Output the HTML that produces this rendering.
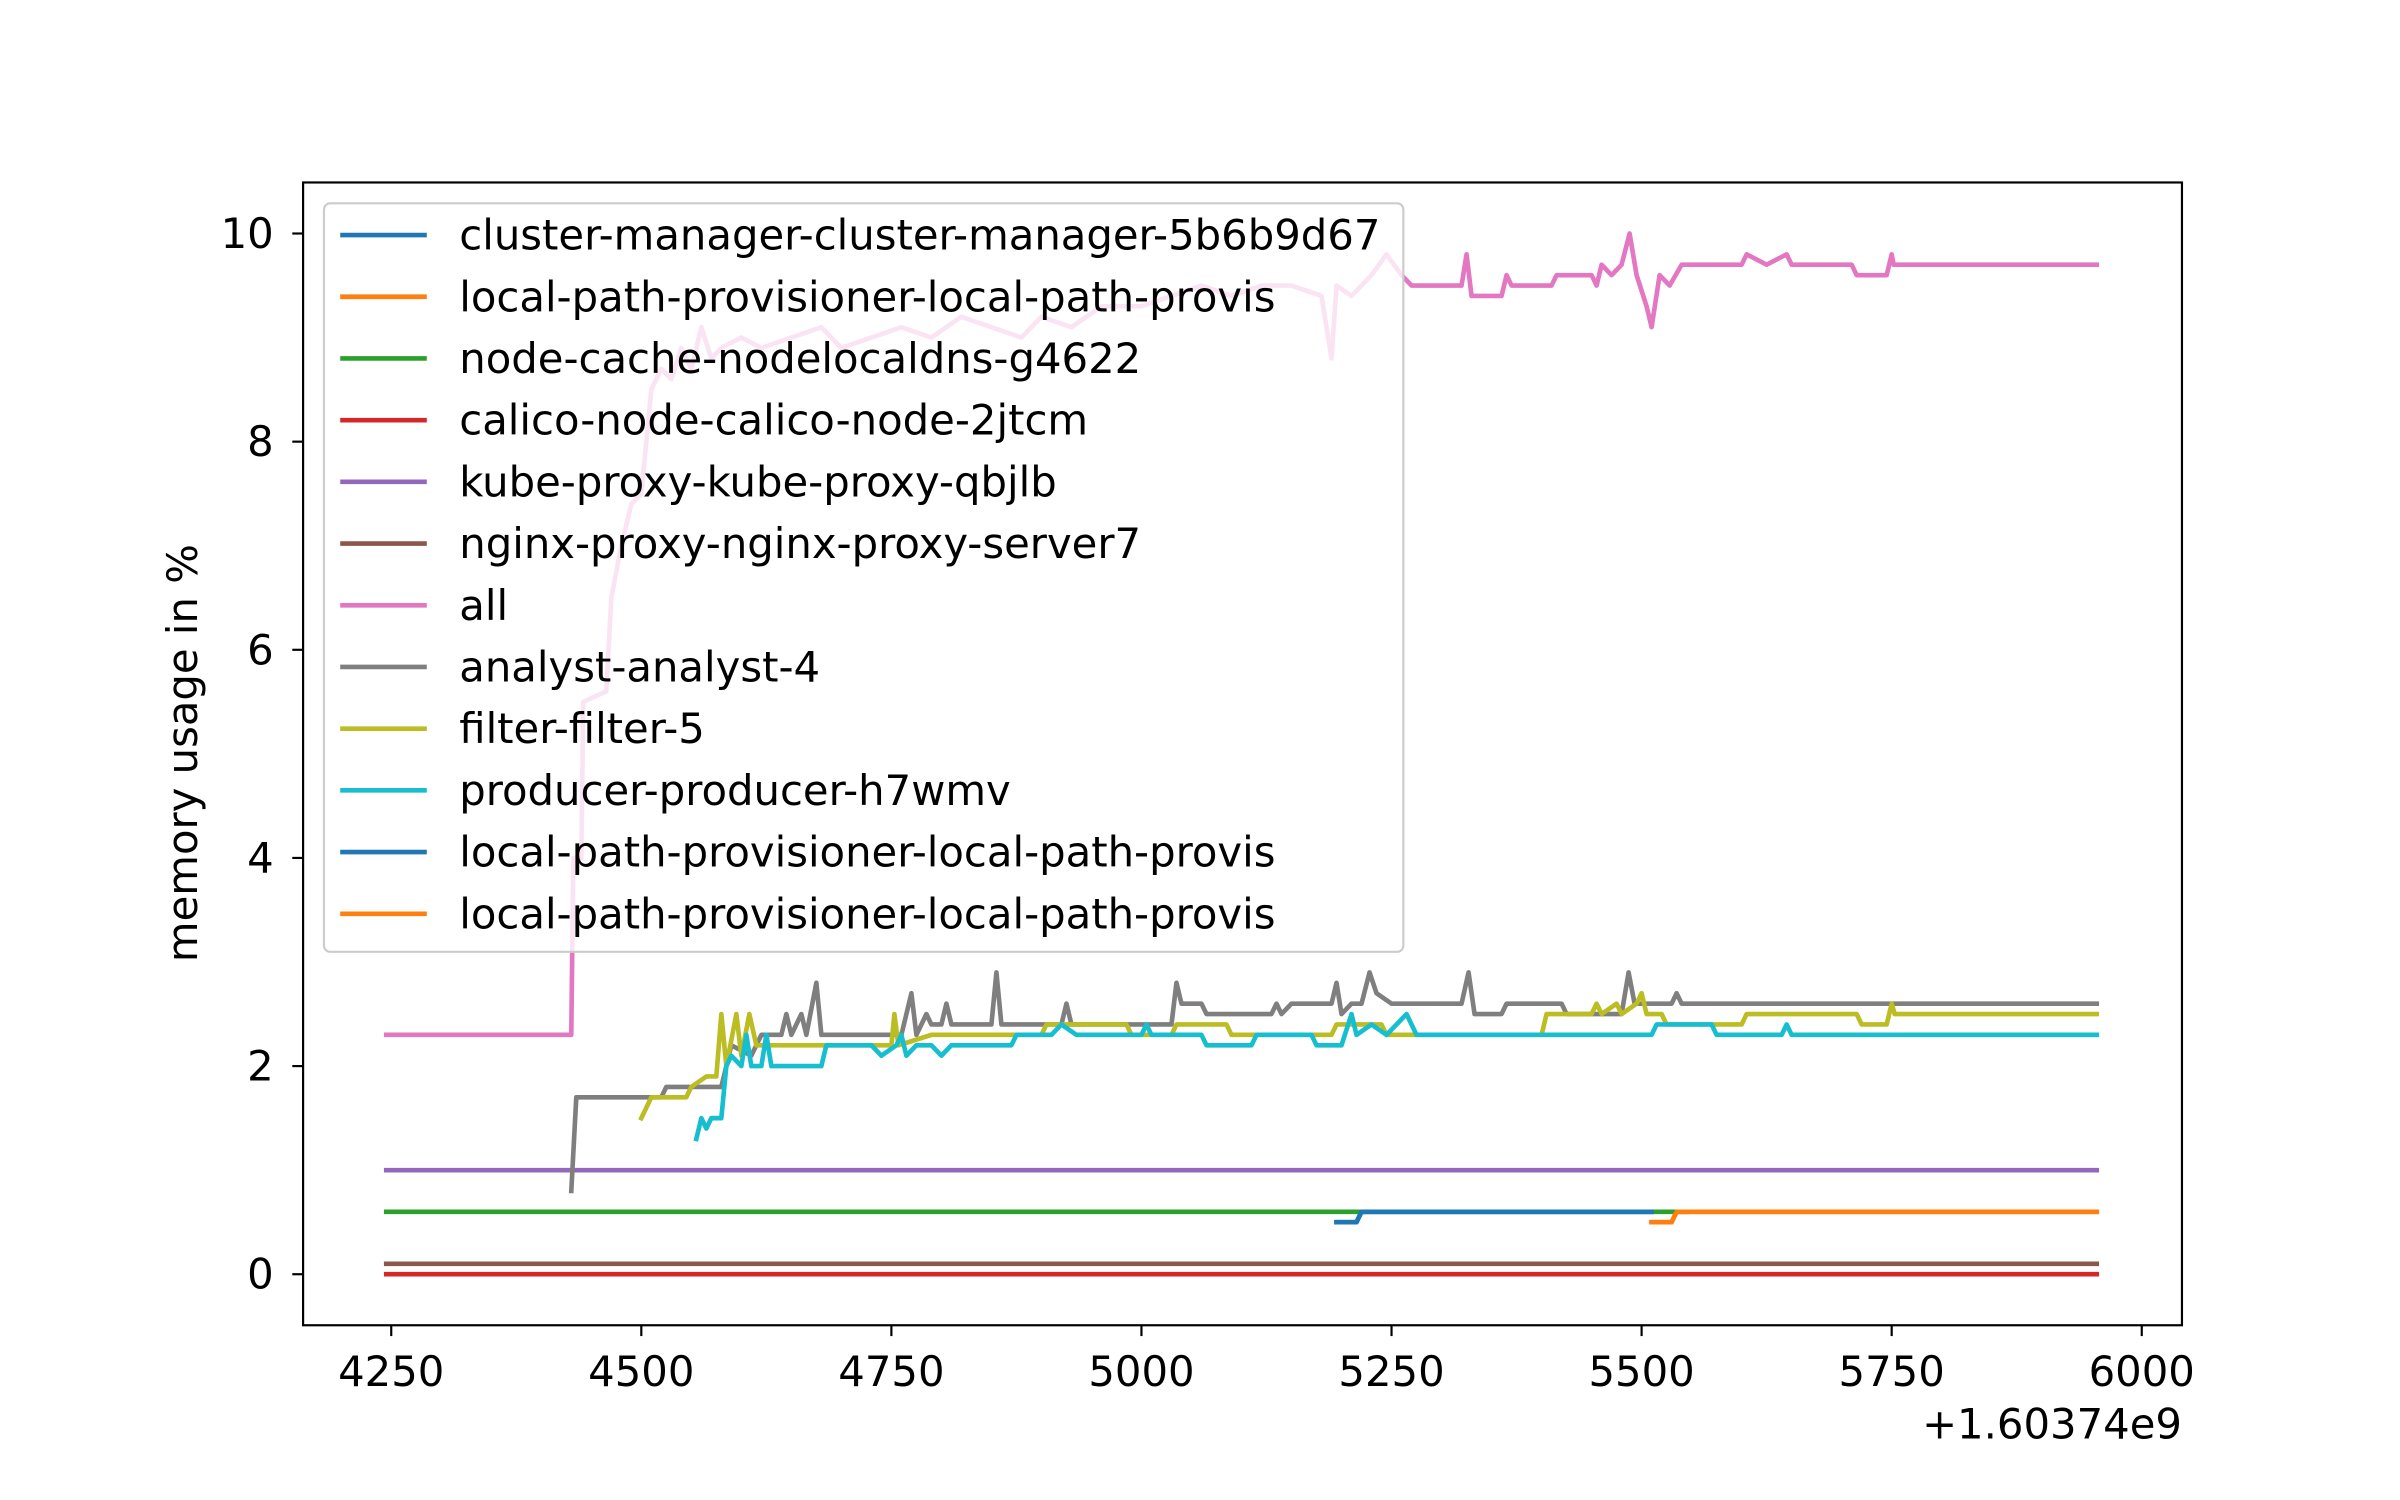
<!DOCTYPE html>
<html><head><meta charset="utf-8"><style>
html,body{margin:0;padding:0;background:#fff;}
svg{display:block;}
text{font-family:"DejaVu Sans","Liberation Sans",sans-serif;fill:#000;}
</style></head><body>
<svg id="chart" width="2400" height="1500" viewBox="0 0 1552 970" preserveAspectRatio="none" xmlns="http://www.w3.org/2000/svg">
<rect x="0" y="0" width="1552" height="970" fill="#fff"/>
<g id="series"></g>
<g id="axes"></g>
<g id="legend"></g>
</svg>
<script>
const xTicks = [4250,4500,4750,5000,5250,5500,5750,6000];
const yTicks = [0,2,4,6,8,10];
const seriesNames = ["cluster-manager-cluster-manager-5b6b9d67","local-path-provisioner-local-path-provis","node-cache-nodelocaldns-g4622","calico-node-calico-node-2jtcm","kube-proxy-kube-proxy-qbjlb","nginx-proxy-nginx-proxy-server7","all","analyst-analyst-4","filter-filter-5","producer-producer-h7wmv","local-path-provisioner-local-path-provis","local-path-provisioner-local-path-provis"];
const seriesColors = ["#1f77b4","#ff7f0e","#2ca02c","#d62728","#9467bd","#8c564b","#e377c2","#7f7f7f","#bcbd22","#17becf","#1f77b4","#ff7f0e"];
const s0 = [[5195,0.5],[5215,0.5],[5220,0.6],[5510,0.6]];
const s1 = [[5510,0.5],[5530,0.5],[5535,0.6],[5955,0.6]];
const s2 = [[4245,0.6],[5545,0.6]];
const s3 = [[4245,0.0],[5955,0.0]];
const s4 = [[4245,1.0],[5955,1.0]];
const s5 = [[4245,0.1],[5955,0.1]];
const s6 = [[4245,2.3],[4430,2.3],[4432,4.0],[4440,4.0],[4442,5.5],[4465,5.6],[4470,6.5],[4480,7.0],[4490,7.4],[4500,7.5],[4510,8.5],[4520,8.7],[4530,8.6],[4540,8.9],[4550,8.7],[4560,9.1],[4570,8.8],[4580,8.9],[4600,9.0],[4620,8.9],[4650,9.0],[4680,9.1],[4700,8.9],[4730,9.0],[4760,9.1],[4790,9.0],[4820,9.2],[4850,9.1],[4880,9.0],[4900,9.2],[4930,9.1],[4960,9.3],[5000,9.3],[5030,9.4],[5060,9.5],[5090,9.4],[5120,9.5],[5150,9.5],[5180,9.4],[5190,8.8],[5195,9.5],[5210,9.4],[5230,9.6],[5245,9.8],[5260,9.6],[5270,9.5],[5320,9.5],[5325,9.8],[5330,9.4],[5360,9.4],[5365,9.6],[5370,9.5],[5410,9.5],[5415,9.6],[5450,9.6],[5455,9.5],[5460,9.7],[5470,9.6],[5480,9.7],[5488,10.0],[5495,9.6],[5505,9.3],[5510,9.1],[5518,9.6],[5528,9.5],[5540,9.7],[5600,9.7],[5605,9.8],[5625,9.7],[5645,9.8],[5650,9.7],[5710,9.7],[5715,9.6],[5745,9.6],[5750,9.8],[5752,9.7],[5955,9.7]];
const s7 = [[4430,0.8],[4435,1.7],[4520,1.7],[4525,1.8],[4580,1.8],[4590,2.2],[4610,2.1],[4620,2.3],[4640,2.3],[4645,2.5],[4650,2.3],[4660,2.5],[4665,2.3],[4675,2.8],[4680,2.3],[4760,2.3],[4770,2.7],[4775,2.3],[4785,2.5],[4790,2.4],[4800,2.4],[4805,2.6],[4810,2.4],[4850,2.4],[4855,2.9],[4860,2.4],[4920,2.4],[4925,2.6],[4930,2.4],[5030,2.4],[5035,2.8],[5040,2.6],[5060,2.6],[5065,2.5],[5130,2.5],[5135,2.6],[5140,2.5],[5150,2.6],[5190,2.6],[5195,2.8],[5200,2.5],[5210,2.6],[5220,2.6],[5228,2.9],[5235,2.7],[5250,2.6],[5320,2.6],[5327,2.9],[5333,2.5],[5360,2.5],[5365,2.6],[5420,2.6],[5425,2.5],[5480,2.5],[5487,2.9],[5493,2.6],[5530,2.6],[5535,2.7],[5540,2.6],[5955,2.6]];
const s8 = [[4500,1.5],[4505,1.6],[4510,1.7],[4545,1.7],[4550,1.8],[4565,1.9],[4575,1.9],[4580,2.5],[4585,2.0],[4595,2.5],[4600,2.1],[4608,2.5],[4615,2.2],[4750,2.2],[4753,2.5],[4757,2.2],[4790,2.3],[4900,2.3],[4905,2.4],[4985,2.4],[4990,2.3],[5030,2.3],[5035,2.4],[5085,2.4],[5090,2.3],[5190,2.3],[5195,2.4],[5240,2.4],[5245,2.3],[5400,2.3],[5405,2.5],[5450,2.5],[5455,2.6],[5460,2.5],[5475,2.6],[5480,2.5],[5495,2.6],[5500,2.7],[5505,2.5],[5520,2.5],[5525,2.4],[5600,2.4],[5605,2.5],[5715,2.5],[5720,2.4],[5745,2.4],[5750,2.6],[5753,2.5],[5955,2.5]];
const s9 = [[4555,1.3],[4560,1.5],[4565,1.4],[4570,1.5],[4580,1.5],[4585,2.0],[4590,2.1],[4600,2.0],[4605,2.3],[4610,2.0],[4620,2.0],[4625,2.3],[4630,2.0],[4680,2.0],[4685,2.2],[4730,2.2],[4740,2.1],[4755,2.2],[4760,2.3],[4765,2.1],[4775,2.2],[4790,2.2],[4800,2.1],[4810,2.2],[4870,2.2],[4875,2.3],[4910,2.3],[4920,2.4],[4935,2.3],[5000,2.3],[5005,2.4],[5010,2.3],[5060,2.3],[5065,2.2],[5110,2.2],[5115,2.3],[5170,2.3],[5175,2.2],[5200,2.2],[5210,2.5],[5215,2.3],[5230,2.4],[5245,2.3],[5265,2.5],[5275,2.3],[5510,2.3],[5515,2.4],[5570,2.4],[5575,2.3],[5640,2.3],[5645,2.4],[5650,2.3],[5955,2.3]];
const s10 = [[5195,0.5],[5215,0.5],[5220,0.6],[5510,0.6]];
const s11 = [[5510,0.5],[5530,0.5],[5535,0.6],[5955,0.6]];
const allSeries = [s0,s1,s2,s3,s4,s5,s6,s7,s8,s9,s10,s11];

const NS = "http://www.w3.org/2000/svg";
const L=196,R=1411,T=118,B=857;
function xs(v){return 253 + (v-4250)*(1132/1750);}
function ys(v){return 824 - v*67.3;}
function mk(tag, attrs, parent){const e=document.createElementNS(NS,tag);for(const k in attrs)e.setAttribute(k,attrs[k]);parent.appendChild(e);return e;}
const gS=document.getElementById('series'), gA=document.getElementById('axes'), gL=document.getElementById('legend');
allSeries.forEach((s,i)=>{
  const d=s.map((p,j)=>(j?'L':'M')+xs(p[0]).toFixed(2)+' '+ys(p[1]).toFixed(2)).join(' ');
  const p=mk('path',{d:d,fill:'none',stroke:seriesColors[i],'stroke-width':3,'stroke-linejoin':'round','stroke-linecap':'square'},gS);
  
  
});
const fr=mk('rect',{x:L,y:T,width:R-L,height:B-T,fill:'none',stroke:'#000','stroke-width':1.4},gA);


xTicks.forEach(v=>{
  const x=xs(v);
  mk('line',{x1:x,y1:B,x2:x,y2:B+7,stroke:'#000','stroke-width':1.4},gA);
  const t=mk('text',{x:x,y:887,'font-size':27,'text-anchor':'middle','dominant-baseline':'central'},gA);
  t.textContent=v;
  
  
});
yTicks.forEach(v=>{
  const y=ys(v);
  mk('line',{x1:L-7,y1:y,x2:L,y2:y,stroke:'#000','stroke-width':1.4},gA);
  const t=mk('text',{x:177,y:y,'font-size':27,'text-anchor':'end','dominant-baseline':'central'},gA);
  t.textContent=v;
  
  
});
const off=mk('text',{x:1411,y:921,'font-size':27,'text-anchor':'end','dominant-baseline':'central'},gA);
off.textContent='+1.60374e9';


const yl=mk('text',{x:0,y:0,'font-size':27,'text-anchor':'middle','dominant-baseline':'central',transform:'translate(118,487) rotate(-90)'},gA);
yl.textContent='memory usage in %';


const lb=mk('rect',{x:209.5,y:131.5,width:698,height:484,rx:4,fill:'#fff','fill-opacity':0.8,stroke:'#ccc','stroke-width':1.4},gL);


seriesNames.forEach((n,i)=>{
  const y=152+i*39.9;
  const g=mk('g',{},gL);
  
  
  mk('line',{x1:220,y1:y,x2:276,y2:y,stroke:seriesColors[i],'stroke-width':3},g);
  const t=mk('text',{x:297,y:y,'font-size':27,'dominant-baseline':'central'},g);
  t.textContent=n;
});
</script>
</body></html>
